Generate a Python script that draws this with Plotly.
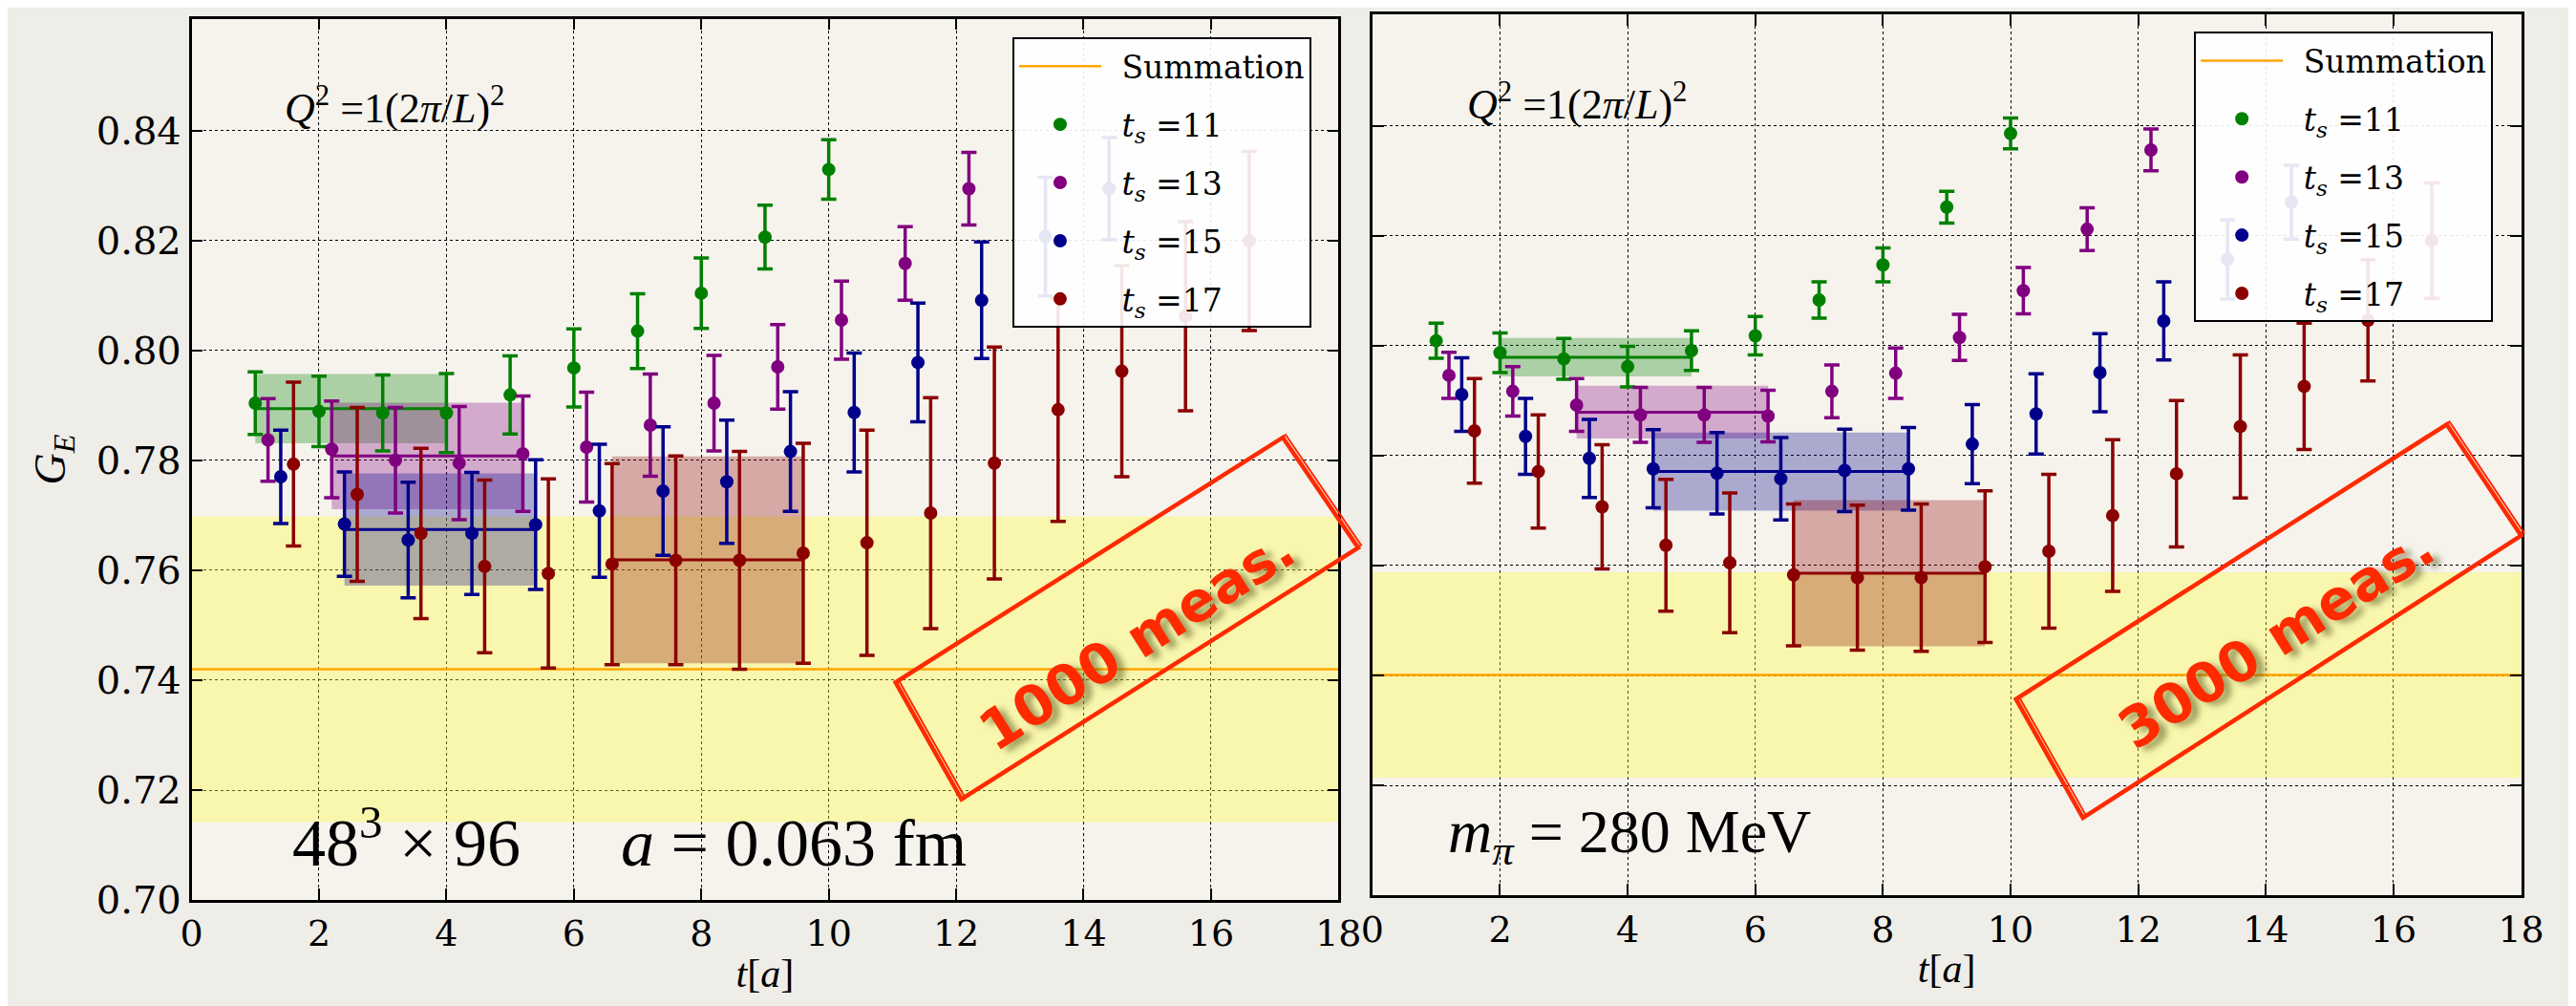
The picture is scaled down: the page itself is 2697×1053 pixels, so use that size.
import plotly.graph_objects as go

W, H = 2697, 1053

# ---------------- data ----------------
x_ticks = [0, 2, 4, 6, 8, 10, 12, 14, 16, 18]
y_ticks = [0.70, 0.72, 0.74, 0.76, 0.78, 0.80, 0.82, 0.84]
y_tick_labels = ["0.70", "0.72", "0.74", "0.76", "0.78", "0.80", "0.82", "0.84"]
series_names = ["11", "13", "15", "17"]

# Left panel: 1000 measurements
ts11_L_x = [1, 2, 3, 4, 5, 6, 7, 8, 9, 10]
ts11_L_y = [0.7904, 0.7889, 0.7886, 0.7886, 0.7919, 0.7968, 0.8035, 0.8104, 0.8206, 0.8329]
ts11_L_e = [0.0057, 0.0064, 0.0069, 0.0072, 0.0071, 0.0071, 0.0068, 0.0064, 0.0058, 0.0054]

ts13_L_x = [1.2, 2.2, 3.2, 4.2, 5.2, 6.2, 7.2, 8.2, 9.2, 10.2, 11.2, 12.2]
ts13_L_y = [0.7837, 0.7820, 0.7800, 0.7795, 0.7812, 0.7824, 0.7864, 0.7904, 0.7970, 0.8055, 0.8158, 0.8294]
ts13_L_e = [0.0075, 0.0088, 0.0096, 0.0103, 0.0105, 0.0100, 0.0093, 0.0087, 0.0077, 0.0071, 0.0067, 0.0066]

ts15_L_x = [1.4, 2.4, 3.4, 4.4, 5.4, 6.4, 7.4, 8.4, 9.4, 10.4, 11.4, 12.4, 13.4, 14.4]
ts15_L_y = [0.7770, 0.7684, 0.7655, 0.7667, 0.7683, 0.7708, 0.7744, 0.7761, 0.7816, 0.7887,
            0.7978, 0.8091, 0.8207, 0.8294]
ts15_L_e = [0.0085, 0.0095, 0.0105, 0.0111, 0.0118, 0.0121, 0.0117, 0.0112, 0.0109, 0.0108,
            0.0108, 0.0106, 0.0108, 0.0093]

ts17_L_x = [1.6, 2.6, 3.6, 4.6, 5.6, 6.6, 7.6, 8.6, 9.6, 10.6, 11.6, 12.6, 13.6, 14.6, 15.6, 16.6]
ts17_L_y = [0.7793, 0.7738, 0.7667, 0.7607, 0.7594, 0.7611, 0.7618, 0.7618, 0.7631, 0.7650,
            0.7704, 0.7795, 0.7892, 0.7962, 0.8062, 0.8199]
ts17_L_e = [0.0149, 0.0158, 0.0155, 0.0157, 0.0172, 0.0183, 0.0190, 0.0198, 0.0200, 0.0205,
            0.0210, 0.0211, 0.0203, 0.0192, 0.0172, 0.0163]

# plateau fits: [t_start, t_end, value, error]
fit11_L = [1.0, 4.0, 0.7894, 0.0063]
fit13_L = [2.2, 5.2, 0.7808, 0.0097]
fit15_L = [2.4, 5.4, 0.7674, 0.0102]
fit17_L = [6.6, 9.6, 0.7619, 0.0188]
summation_L = [0.7420, 0.0278]

# Right panel: 3000 measurements
ts11_R_x = [1, 2, 3, 4, 5, 6, 7, 8, 9, 10]
ts11_R_y = [0.8009, 0.7987, 0.7976, 0.7962, 0.7991, 0.8018, 0.8083, 0.8147, 0.8252, 0.8386]
ts11_R_e = [0.0032, 0.0036, 0.0037, 0.0037, 0.0036, 0.0035, 0.0033, 0.0031, 0.0029, 0.0028]

ts13_R_x = [1.2, 2.2, 3.2, 4.2, 5.2, 6.2, 7.2, 8.2, 9.2, 10.2, 11.2, 12.2]
ts13_R_y = [0.7946, 0.7917, 0.7892, 0.7874, 0.7874, 0.7872, 0.7917, 0.7950, 0.8015, 0.8100, 0.8212, 0.8356]
ts13_R_e = [0.0042, 0.0045, 0.0048, 0.0050, 0.0050, 0.0047, 0.0048, 0.0046, 0.0042, 0.0042, 0.0039, 0.0038]

ts15_R_x = [1.4, 2.4, 3.4, 4.4, 5.4, 6.4, 7.4, 8.4, 9.4, 10.4, 11.4, 12.4, 13.4, 14.4]
ts15_R_y = [0.7911, 0.7835, 0.7795, 0.7776, 0.7768, 0.7758, 0.7773, 0.7776, 0.7821, 0.7876,
            0.7951, 0.8045, 0.8157, 0.8261]
ts15_R_e = [0.0067, 0.0069, 0.0071, 0.0071, 0.0074, 0.0075, 0.0075, 0.0075, 0.0072, 0.0073,
            0.0071, 0.0071, 0.0072, 0.0067]

ts17_R_x = [1.6, 2.6, 3.6, 4.6, 5.6, 6.6, 7.6, 8.6, 9.6, 10.6, 11.6, 12.6, 13.6, 14.6, 15.6, 16.6]
ts17_R_y = [0.7845, 0.7771, 0.7707, 0.7637, 0.7605, 0.7583, 0.7578, 0.7578, 0.7598, 0.7626,
            0.7691, 0.7767, 0.7853, 0.7926, 0.8046, 0.8191]
ts17_R_e = [0.0095, 0.0103, 0.0113, 0.0120, 0.0127, 0.0129, 0.0132, 0.0134, 0.0138, 0.0140,
            0.0138, 0.0133, 0.0130, 0.0115, 0.0110, 0.0105]

fit11_R = [2.0, 5.0, 0.7979, 0.0035]
fit13_R = [3.2, 6.2, 0.7879, 0.0048]
fit15_R = [4.4, 8.4, 0.7771, 0.0071]
fit17_R = [6.6, 9.6, 0.7586, 0.0133]
summation_R = [0.7401, 0.0187]

# ---------------- styles ----------------
SERIF = "Liberation Serif"
WSERIF = "DejaVu Serif"
COLORS = ["#008000", "#800080", "#00008b", "#8b0000"]
BAND_RGBA = ["rgba(0,128,0,0.30)", "rgba(128,0,128,0.30)", "rgba(0,0,139,0.30)", "rgba(139,0,0,0.30)"]
SUM_COLOR = "#ffa500"
SUM_BAND = "rgba(255,252,60,0.36)"
STAMP = "#ff2a00"
GAP = "\u2002"


def px(xp):
    return xp / W


def py(yp):
    return 1 - yp / H


fig = go.Figure()


def add_panel(xa, ya, leg, pts, fits, summ):
    xr = [x_ticks[0], x_ticks[-1]]
    c, e = summ
    fig.add_trace(go.Scatter(x=[xr[0], xr[1], xr[1], xr[0], xr[0]], y=[c - e, c - e, c + e, c + e, c - e],
                             fill="toself", fillcolor=SUM_BAND, mode="lines", line=dict(width=0),
                             xaxis=xa, yaxis=ya, showlegend=False, hoverinfo="skip"))
    fig.add_trace(go.Scatter(x=xr, y=[c, c], mode="lines", line=dict(color=SUM_COLOR, width=2.5),
                             name=GAP + "Summation", legend=leg, legendgroup=leg + "sum",
                             xaxis=xa, yaxis=ya))
    for i, f in enumerate(fits):
        x0, x1, v, ev = f
        fig.add_trace(go.Scatter(x=[x0, x1, x1, x0, x0], y=[v - ev, v - ev, v + ev, v + ev, v - ev],
                                 fill="toself", fillcolor=BAND_RGBA[i], mode="lines", line=dict(width=0),
                                 xaxis=xa, yaxis=ya, showlegend=False, hoverinfo="skip"))
    for i, f in enumerate(fits):
        x0, x1, v, ev = f
        fig.add_trace(go.Scatter(x=[x0, x1], y=[v, v], mode="lines",
                                 line=dict(color=COLORS[i], width=3),
                                 xaxis=xa, yaxis=ya, showlegend=False, hoverinfo="skip"))
    for i, (xs, ys, es) in enumerate(pts):
        fig.add_trace(go.Scatter(x=xs, y=ys, mode="markers",
                                 marker=dict(color=COLORS[i], size=14),
                                 error_y=dict(type="data", array=es, color=COLORS[i], thickness=3.5, width=8),
                                 name=GAP + "<i>t</i><sub><i>s</i></sub> =" + series_names[i],
                                 legend=leg, legendgroup=leg + series_names[i],
                                 xaxis=xa, yaxis=ya))


add_panel("x", "y", "legend",
          [(ts11_L_x, ts11_L_y, ts11_L_e), (ts13_L_x, ts13_L_y, ts13_L_e),
           (ts15_L_x, ts15_L_y, ts15_L_e), (ts17_L_x, ts17_L_y, ts17_L_e)],
          [fit11_L, fit13_L, fit15_L, fit17_L], summation_L)
add_panel("x2", "y2", "legend2",
          [(ts11_R_x, ts11_R_y, ts11_R_e), (ts13_R_x, ts13_R_y, ts13_R_e),
           (ts15_R_x, ts15_R_y, ts15_R_e), (ts17_R_x, ts17_R_y, ts17_R_e)],
          [fit11_R, fit13_R, fit15_R, fit17_R], summation_R)

axis_common = dict(showgrid=True, gridcolor="black", griddash="dot", gridwidth=1.3,
                   showline=True, linecolor="black", linewidth=2.5, mirror="ticks",
                   ticks="inside", ticklen=12, tickwidth=1.5, tickcolor="black", zeroline=False)
xtickfont = dict(family=WSERIF, size=38, color="black")
ytickfont = dict(family=WSERIF, size=40, color="black")

YTOP = 0.8603
legend_common = dict(xanchor="left", yanchor="top",
                     bgcolor="rgba(255,255,255,0.9)", bordercolor="black", borderwidth=2,
                     font=dict(family=WSERIF, size=33, color="black"), itemwidth=86,
                     traceorder="grouped", tracegroupgap=15)
fig.update_layout(
    width=W, height=H,
    margin=dict(l=0, r=0, t=0, b=0),
    paper_bgcolor="#efede8", plot_bgcolor="#f6f3ed",
    font=dict(family=SERIF, color="black"),
    xaxis=dict(domain=[px(183), px(1400)], range=[0, 18], tickvals=x_ticks, anchor="y",
               tickfont=xtickfont,
               title=dict(text="<i>t</i>[<i>a</i>]", font=dict(family=SERIF, size=42), standoff=6),
               **axis_common),
    yaxis=dict(domain=[py(955), py(12)], range=[0.70, YTOP], tickvals=y_ticks, ticktext=y_tick_labels,
               anchor="x", tickfont=ytickfont,
               title=dict(text="<i>G</i><sub><i>E</i></sub>", font=dict(family=SERIF, size=46), standoff=18),
               **axis_common),
    xaxis2=dict(domain=[px(1436), px(2655)], range=[0, 18], tickvals=x_ticks, anchor="y2",
                tickfont=xtickfont,
                title=dict(text="<i>t</i>[<i>a</i>]", font=dict(family=SERIF, size=42), standoff=6),
                **axis_common),
    yaxis2=dict(domain=[py(950), py(7)], range=[0.70, YTOP], tickvals=y_ticks, anchor="x2",
                showticklabels=False, tickfont=ytickfont, **axis_common),
    legend=dict(x=px(1054), y=py(32), **legend_common),
    legend2=dict(x=px(2308), y=py(26), **legend_common),
)

# text annotations
q2 = "<i>Q</i><sup>2</sup> =1(2<i>π</i>/<i>L</i>)<sup>2</sup>"
fig.add_annotation(text=q2, xref="paper", yref="paper", x=px(280), y=py(105), xanchor="left",
                   yanchor="middle", showarrow=False, font=dict(family=SERIF, size=44))
fig.add_annotation(text=q2, xref="paper", yref="paper", x=px(1534), y=py(101), xanchor="left",
                   yanchor="middle", showarrow=False, font=dict(family=SERIF, size=44))
fig.add_annotation(text="48<sup>3</sup> × 96\u2003\u2002<i>a</i> = 0.063 fm", xref="paper", yref="paper",
                   x=px(288), y=py(888), xanchor="left", yanchor="middle", showarrow=False,
                   font=dict(family=SERIF, size=70))
fig.add_annotation(text="<i>m</i><sub><i>π</i></sub> = 280 MeV", xref="paper", yref="paper",
                   x=px(1514), y=py(886), xanchor="left", yanchor="middle", showarrow=False,
                   font=dict(family=SERIF, size=64))

# stamps
stamps = [
    dict(corners=[(930, 722), (1000, 847), (1421, 578), (1341, 460)], text="1000 meas.", c=(1186, 677)),
    dict(corners=[(2119, 740), (2190, 867), (2655, 565), (2576, 446)], text="3000 meas.", c=(2395, 675)),
]
for s in stamps:
    for dx, dy, wdt in [(0, 0, 4.5), (3, -3, 2)]:
        pts = s["corners"]
        path = "M " + " L ".join(f"{px(x + dx):.5f},{py(y + dy):.5f}" for x, y in pts) + " Z"
        fig.add_shape(type="path", path=path, xref="paper", yref="paper",
                      line=dict(color=STAMP, width=wdt), layer="above")
    fig.add_annotation(text=s["text"], xref="paper", yref="paper", x=px(s["c"][0]), y=py(s["c"][1]),
                       xanchor="center", yanchor="middle", showarrow=False, textangle=-32.5,
                       font=dict(family="DejaVu Sans", size=58, color=STAMP, weight="bold",
                                 shadow="5px 7px 6px rgba(90,90,30,0.55)"))

fig.write_html("out.html")
